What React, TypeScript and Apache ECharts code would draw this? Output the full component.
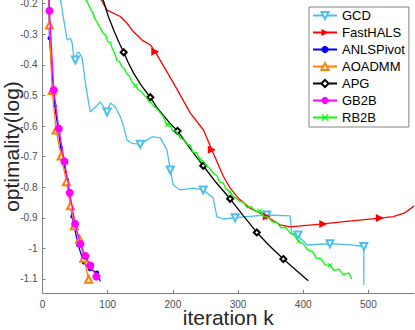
import React, { useEffect, useRef } from "react";
import * as echarts from "echarts";

// ---- data ----
const xTicks = [0, 100, 200, 300, 400, 500];
const yTicks = [-1.1, -1, -0.9, -0.8, -0.7, -0.6, -0.5, -0.4, -0.3, -0.2];

const gcdX = [25.5, 35.2, 37.8, 42.9, 45.5, 47.5, 50.5, 53.1, 55.6, 60.8, 65.8, 70.9, 73.5, 81.2, 88.8, 96.5, 99.1, 104.2, 111.8, 119.4, 124.5, 129.7, 138, 150, 168.0, 180.7, 191.0, 196.0, 200.6, 211.3, 231.2, 246.6, 261.9, 267.5, 277.2, 295.6, 313.5, 344.1, 379.8, 382.4, 392.0, 405.4, 441.0, 470, 493.0, 493.0, 493.0];
const gcdY = [-0.16, -0.286, -0.319, -0.312, -0.328, -0.368, -0.384, -0.361, -0.358, -0.377, -0.459, -0.525, -0.554, -0.538, -0.521, -0.547, -0.554, -0.525, -0.538, -0.570, -0.602, -0.646, -0.657, -0.66, -0.635, -0.639, -0.678, -0.744, -0.793, -0.809, -0.803, -0.809, -0.835, -0.896, -0.904, -0.900, -0.896, -0.891, -0.894, -0.950, -0.956, -0.989, -0.985, -0.988, -0.994, -1.005, -1.12];
const gcdMarks = [6, 16, 23, 27, 31, 35, 37, 40, 42, 44];

const halsX = [86, 91.4, 99.1, 119.4, 129.7, 139.8, 152.7, 165.4, 173.0, 183.3, 201.1, 226.6, 247.0, 259.8, 277.6, 287.9, 300.6, 318.5, 344.1, 364.5, 379.8, 430.8, 466.6, 517.6, 538.0, 555, 570];
const halsY = [-0.17, -0.193, -0.221, -0.242, -0.264, -0.292, -0.319, -0.335, -0.357, -0.395, -0.460, -0.557, -0.613, -0.678, -0.765, -0.803, -0.836, -0.869, -0.896, -0.923, -0.930, -0.920, -0.912, -0.901, -0.896, -0.885, -0.862];
const halsMarks = [8, 13, 18, 21, 23];

const anlsX = [9.8, 10.7, 18.8, 28.0, 37.8, 45.5, 54.7, 63.2, 72.4, 83.8, 88.8];
const anlsY = [-0.17, -0.313, -0.534, -0.669, -0.776, -0.896, -0.989, -1.046, -1.068, -1.079, -1.108];
const anlsMarks = [1, 2, 3, 4, 5, 6, 7, 8, 9];

const aoX = [9.5, 10.7, 14.8, 20.9, 28.6, 36.8, 42.9, 49.0, 56.7, 63.2, 70.9];
const aoY = [-0.17, -0.27, -0.484, -0.613, -0.698, -0.782, -0.861, -0.926, -0.970, -1.032, -1.101];
const aoMarks = [1, 2, 3, 4, 5, 6, 7, 8, 9, 10];

const apgX = [88, 93.9, 101, 109.2, 116.5, 124.5, 132, 139.8, 152, 165.4, 175, 185.8, 196, 207.2, 226, 246.6, 266, 287.9, 308, 328.8, 349, 369.5, 390, 407.8];
const apgY = [-0.17, -0.193, -0.242, -0.286, -0.323, -0.359, -0.395, -0.427, -0.469, -0.506, -0.538, -0.566, -0.592, -0.616, -0.672, -0.730, -0.784, -0.838, -0.893, -0.948, -0.993, -1.035, -1.073, -1.106];
const apgMarks = [5, 9, 13, 15, 17, 19, 21];

const gbX = [9.5, 10.7, 17.3, 25.0, 33.7, 41.8, 50.1, 58.2, 65.8, 73.5, 82.7];
const gbY = [-0.17, -0.223, -0.482, -0.609, -0.716, -0.818, -0.920, -0.986, -1.025, -1.056, -1.092];
const gbMarks = [1, 2, 3, 4, 5, 6, 7, 8, 9, 10];

const rbX = [64, 67.4, 70, 73.5, 77, 80, 83.8, 87, 90, 93.9, 97, 100, 104.1, 107, 110, 114.4, 118, 122, 126, 129.7, 133, 137, 142.4, 146, 150, 155.1, 159, 163, 166, 170.4, 175, 180.7, 185, 191, 195, 200, 205, 211.3, 216, 221, 226.6, 231, 236, 242, 247, 252, 257.3, 262, 267.5, 272, 277, 282, 287.9, 292, 298, 303, 308.3, 314, 320, 327, 333.8, 340, 346, 353, 359.4, 366, 373, 379.8, 386, 393, 400.2, 407, 414, 420.6, 427, 434, 441, 448, 455, 461.4, 467, 470, 474.2];
const rbY = [-0.178, -0.19, -0.2, -0.217, -0.228, -0.247, -0.26, -0.274, -0.284, -0.299, -0.302, -0.324, -0.326, -0.347, -0.358, -0.386, -0.389, -0.407, -0.414, -0.43, -0.436, -0.455, -0.468, -0.479, -0.485, -0.497, -0.505, -0.518, -0.523, -0.535, -0.542, -0.557, -0.568, -0.596, -0.594, -0.617, -0.617, -0.639, -0.644, -0.659, -0.663, -0.686, -0.687, -0.709, -0.716, -0.732, -0.74, -0.754, -0.762, -0.784, -0.786, -0.806, -0.816, -0.83, -0.836, -0.847, -0.849, -0.867, -0.864, -0.879, -0.877, -0.897, -0.897, -0.914, -0.914, -0.933, -0.931, -0.95, -0.956, -0.977, -0.985, -1.005, -1.01, -1.032, -1.034, -1.055, -1.055, -1.073, -1.068, -1.086, -1.083, -1.08, -1.1];
const rbMarks = [22, 33, 43, 52, 60, 69, 76];

const names = ["GCD", "FastHALS", "ANLSPivot", "AOADMM", "APG", "GB2B", "RB2B"];
const colors = ["#4DBEEE", "#FF0000", "#0000FF", "#FF8000", "#000000", "#FF00FF", "#00FF00"];

const xCross = "path://M0,1.2L1.2,0L5,3.8L8.8,0L10,1.2L6.2,5L10,8.8L8.8,10L5,6.2L1.2,10L0,8.8L3.8,5Z";

function points(xs: number[], ys: number[], marks: number[]) {
  return xs.map((x, i) => {
    const item: any = { value: [x, ys[i]] };
    if (marks.indexOf(i) < 0) item.symbol = "none";
    return item;
  });
}

export default function App() {
  const ref = useRef<HTMLDivElement>(null);
  useEffect(() => {
    if (!ref.current) return;
    const chart = echarts.init(ref.current, null, { renderer: "svg" });
    const font = "'Liberation Sans', Arial, Helvetica, sans-serif";
    const mk = (
      idx: number,
      xs: number[],
      ys: number[],
      marks: number[],
      symbol: string,
      size: number,
      rotate: number,
      hollow: boolean
    ) => ({
      name: names[idx],
      type: "line",
      data: points(xs, ys, marks),
      symbol,
      symbolSize: size,
      symbolRotate: rotate,
      showSymbol: true,
      showAllSymbol: true,
      clip: true,
      lineStyle: { color: colors[idx], width: 1.3 },
      itemStyle: hollow
        ? { color: colors[idx], borderColor: colors[idx], borderWidth: 1.2 }
        : { color: colors[idx], borderWidth: 0 },
      emphasis: { disabled: true },
      z: 2 + idx,
    });
    chart.setOption({
      animation: false,
      backgroundColor: "#fff",
      textStyle: { fontFamily: font },
      grid: { left: 42.5, right: 1, top: 0, bottom: 37, containLabel: false, outerBoundsMode: "none" },
      legend: {
        orient: "vertical",
        left: 309,
        top: 7,
        padding: [2, 4, 3, 3],
        itemWidth: 24,
        itemHeight: 9,
        itemGap: 4,
        borderColor: "#666",
        borderWidth: 0.8,
        backgroundColor: "#fff",
        textStyle: { fontSize: 13, color: "#000", fontFamily: font },
        data: names,
      },
      xAxis: {
        type: "value",
        min: 0,
        max: 570,
        name: "iteration k",
        nameLocation: "middle",
        nameGap: 17,
        nameMoveOverlap: false,
        nameTextStyle: { fontSize: 21, lineHeight: 15, color: "#262626", fontFamily: font },
        axisLine: { show: true, lineStyle: { color: "#808080", width: 1 } },
        axisTick: { show: true, inside: true, length: 3, lineStyle: { color: "#808080" }, customValues: xTicks },
        axisLabel: { fontSize: 10, color: "#4d4d4d", margin: 6, customValues: xTicks, fontFamily: font },
        splitLine: { show: false },
      },
      yAxis: {
        type: "value",
        min: -1.146,
        max: -0.188,
        name: "optimality(log)",
        nameLocation: "middle",
        nameGap: 21,
        nameMoveOverlap: false,
        nameTextStyle: { fontSize: 21, color: "#262626", fontFamily: font },
        axisLine: { show: true, lineStyle: { color: "#808080", width: 1 } },
        axisTick: { show: true, inside: true, length: 3, lineStyle: { color: "#808080" }, customValues: yTicks },
        axisLabel: {
          fontSize: 10,
          color: "#4d4d4d",
          margin: 5,
          customValues: yTicks,
          fontFamily: font,
          formatter: (v: number) => String(Math.round(v * 10) / 10),
        },
        splitLine: { show: false },
      },
      series: [
        mk(0, gcdX, gcdY, gcdMarks, "emptyTriangle", 7, 180, true),
        mk(1, halsX, halsY, halsMarks, "triangle", 8, -90, false),
        mk(2, anlsX, anlsY, anlsMarks, "circle", 4, 0, false),
        mk(3, aoX, aoY, aoMarks, "emptyTriangle", 7, 0, true),
        mk(4, apgX, apgY, apgMarks, "emptyDiamond", 6, 0, true),
        mk(5, gbX, gbY, gbMarks, "circle", 8, 0, false),
        mk(6, rbX, rbY, rbMarks, xCross, 5, 0, false),
      ],
    });
    return () => chart.dispose();
  }, []);
  return <div ref={ref} style={{ width: 415, height: 330, position: "absolute", left: 0, top: 0 }} />;
}
